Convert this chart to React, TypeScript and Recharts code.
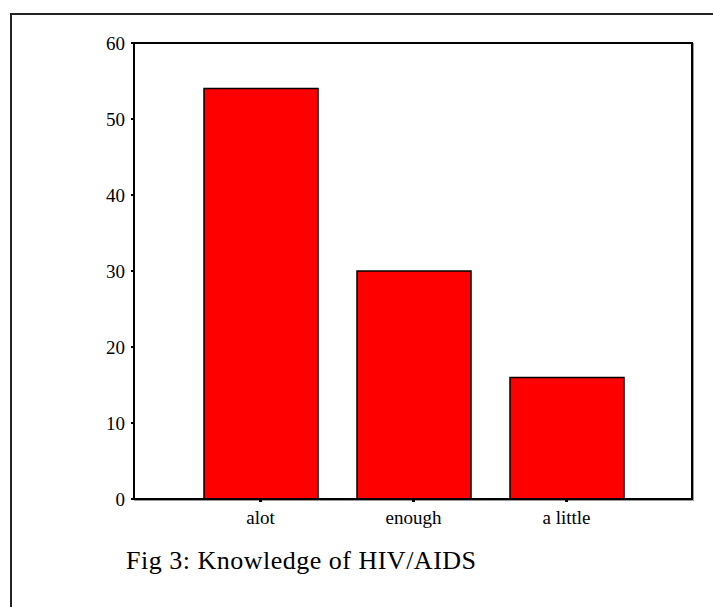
import React from 'react';
import { BarChart, Bar, XAxis, YAxis } from 'recharts';

const categories = ['alot', 'enough', 'a little'];
const percents = [54, 30, 16];
const yTicks = [0, 10, 20, 30, 40, 50, 60];

const data = categories.map((name, i) => ({ name, value: percents[i] }));

const serif = '"Liberation Serif", "Times New Roman", serif';

const App: React.FC = () => {
  return (
    <div
      style={{
        position: 'absolute',
        left: 0,
        top: 0,
        width: 713,
        height: 607,
        overflow: 'hidden',
        background: '#fff',
        fontFamily: serif,
      }}
    >
      {/* outer figure frame */}
      <div
        style={{
          position: 'absolute',
          left: 10,
          top: 13,
          width: 800,
          height: 700,
          border: '2px solid #222',
        }}
      />
      {/* plot box (top/right edges) */}
      <div
        style={{
          position: 'absolute',
          left: 133,
          top: 42,
          width: 560,
          height: 458,
          boxSizing: 'border-box',
          border: '2px solid #000',
          boxShadow: '1px 1px 0 #999',
        }}
      />
      <div style={{ position: 'absolute', left: 0, top: 0 }}>
        <BarChart
          width={713}
          height={607}
          data={data}
          margin={{ top: 43, right: 21, left: 74, bottom: 78 }}
        >
          <XAxis
            dataKey="name"
            padding={{ left: 50, right: 49 }}
            axisLine={{ stroke: '#000', strokeWidth: 2 }}
            tickLine={{ stroke: '#000', strokeWidth: 3 }}
            tickSize={3}
            tickMargin={9}
            height={30}
            tick={{ fill: '#000', fontSize: 19, fontFamily: serif }}
            interval={0}
          />
          <YAxis
            domain={[0, 60]}
            ticks={yTicks}
            width={60}
            axisLine={{ stroke: '#000', strokeWidth: 2 }}
            tickLine={{ stroke: '#000', strokeWidth: 2 }}
            tickSize={3}
            tickMargin={6}
            tick={{ fill: '#000', fontSize: 19, fontFamily: serif }}
          />
          <Bar
            dataKey="value"
            fill="#FF0000"
            stroke="#000"
            strokeWidth={1.5}
            barSize={114}
            isAnimationActive={false}
          />
        </BarChart>
      </div>
      <div
        style={{
          position: 'absolute',
          left: 126,
          top: 546,
          fontSize: 26,
          letterSpacing: 0.5,
          color: '#000',
          whiteSpace: 'nowrap',
        }}
      >
        Fig 3: Knowledge of HIV/AIDS
      </div>
    </div>
  );
};

export default App;
